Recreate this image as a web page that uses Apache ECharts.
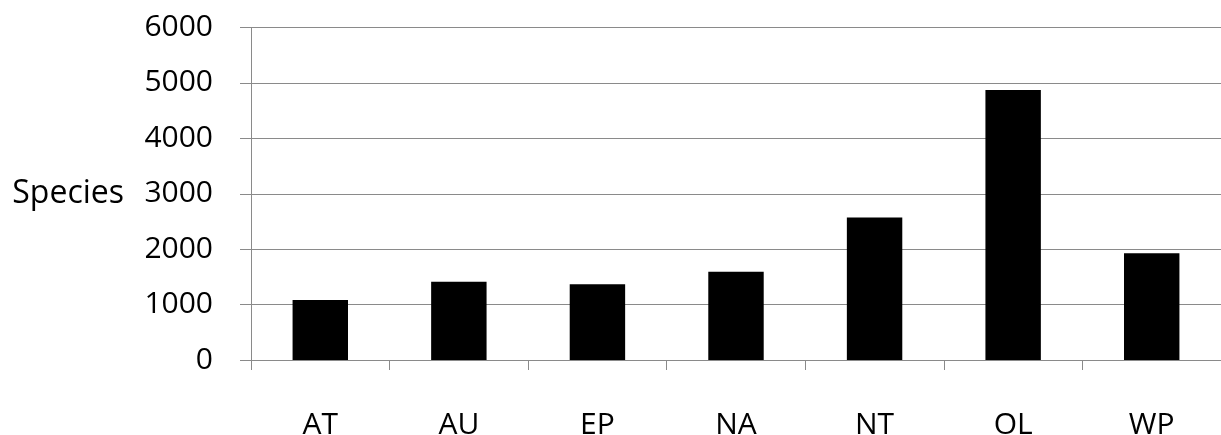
<!DOCTYPE html>
<html>
<head>
<meta charset="utf-8">
<script src="https://cdn.jsdelivr.net/npm/echarts@6/dist/echarts.min.js"></script>
<style>html,body{margin:0;padding:0;background:#fff}#c{width:1221px;height:435px}</style>
</head>
<body>
<div id="c"></div>
<script>
const categories = ['AT', 'AU', 'EP', 'NA', 'NT', 'OL', 'WP'];
const species = [1083, 1414, 1366, 1592, 2571, 4874, 1928];
const yTicks = [0, 1000, 2000, 3000, 4000, 5000, 6000];
const yAxisTitle = 'Species';

const chart = echarts.init(document.getElementById('c'), null, {renderer: 'canvas'});
const font = '"Open Sans", "Liberation Sans", sans-serif';
chart.setOption({
  animation: false,
  backgroundColor: '#fff',
  grid: {left: 251, right: 0, top: 27.5, bottom: 75, containLabel: false, outerBoundsMode: 'none'},
  xAxis: {
    type: 'category',
    data: categories,
    axisLine: {show: true, lineStyle: {color: '#8a8a8a', width: 1}},
    axisTick: {show: true, length: 10, alignWithLabel: false, lineStyle: {color: '#8a8a8a'}},
    axisLabel: {color: '#000', fontSize: 30, fontFamily: font, margin: 50}
  },
  yAxis: {
    type: 'value',
    min: yTicks[0],
    max: yTicks[yTicks.length - 1],
    interval: 1000,
    axisLine: {show: true, lineStyle: {color: '#8a8a8a', width: 1}},
    axisTick: {show: true, length: 11, lineStyle: {color: '#8a8a8a'}},
    splitLine: {show: true, lineStyle: {color: '#8a8a8a', width: 1}},
    axisLabel: {color: '#000', fontSize: 30, fontFamily: font, margin: 38, formatter: v => String(v)}
  },
  graphic: [{
    type: 'text',
    x: 124,
    y: 194,
    style: {text: yAxisTitle, fill: '#000', font: '32px ' + font, align: 'right', verticalAlign: 'middle'}
  }],
  series: [{
    type: 'bar',
    data: species,
    barWidth: '40%',
    itemStyle: {color: '#000'}
  }]
});
</script>
</body>
</html>
